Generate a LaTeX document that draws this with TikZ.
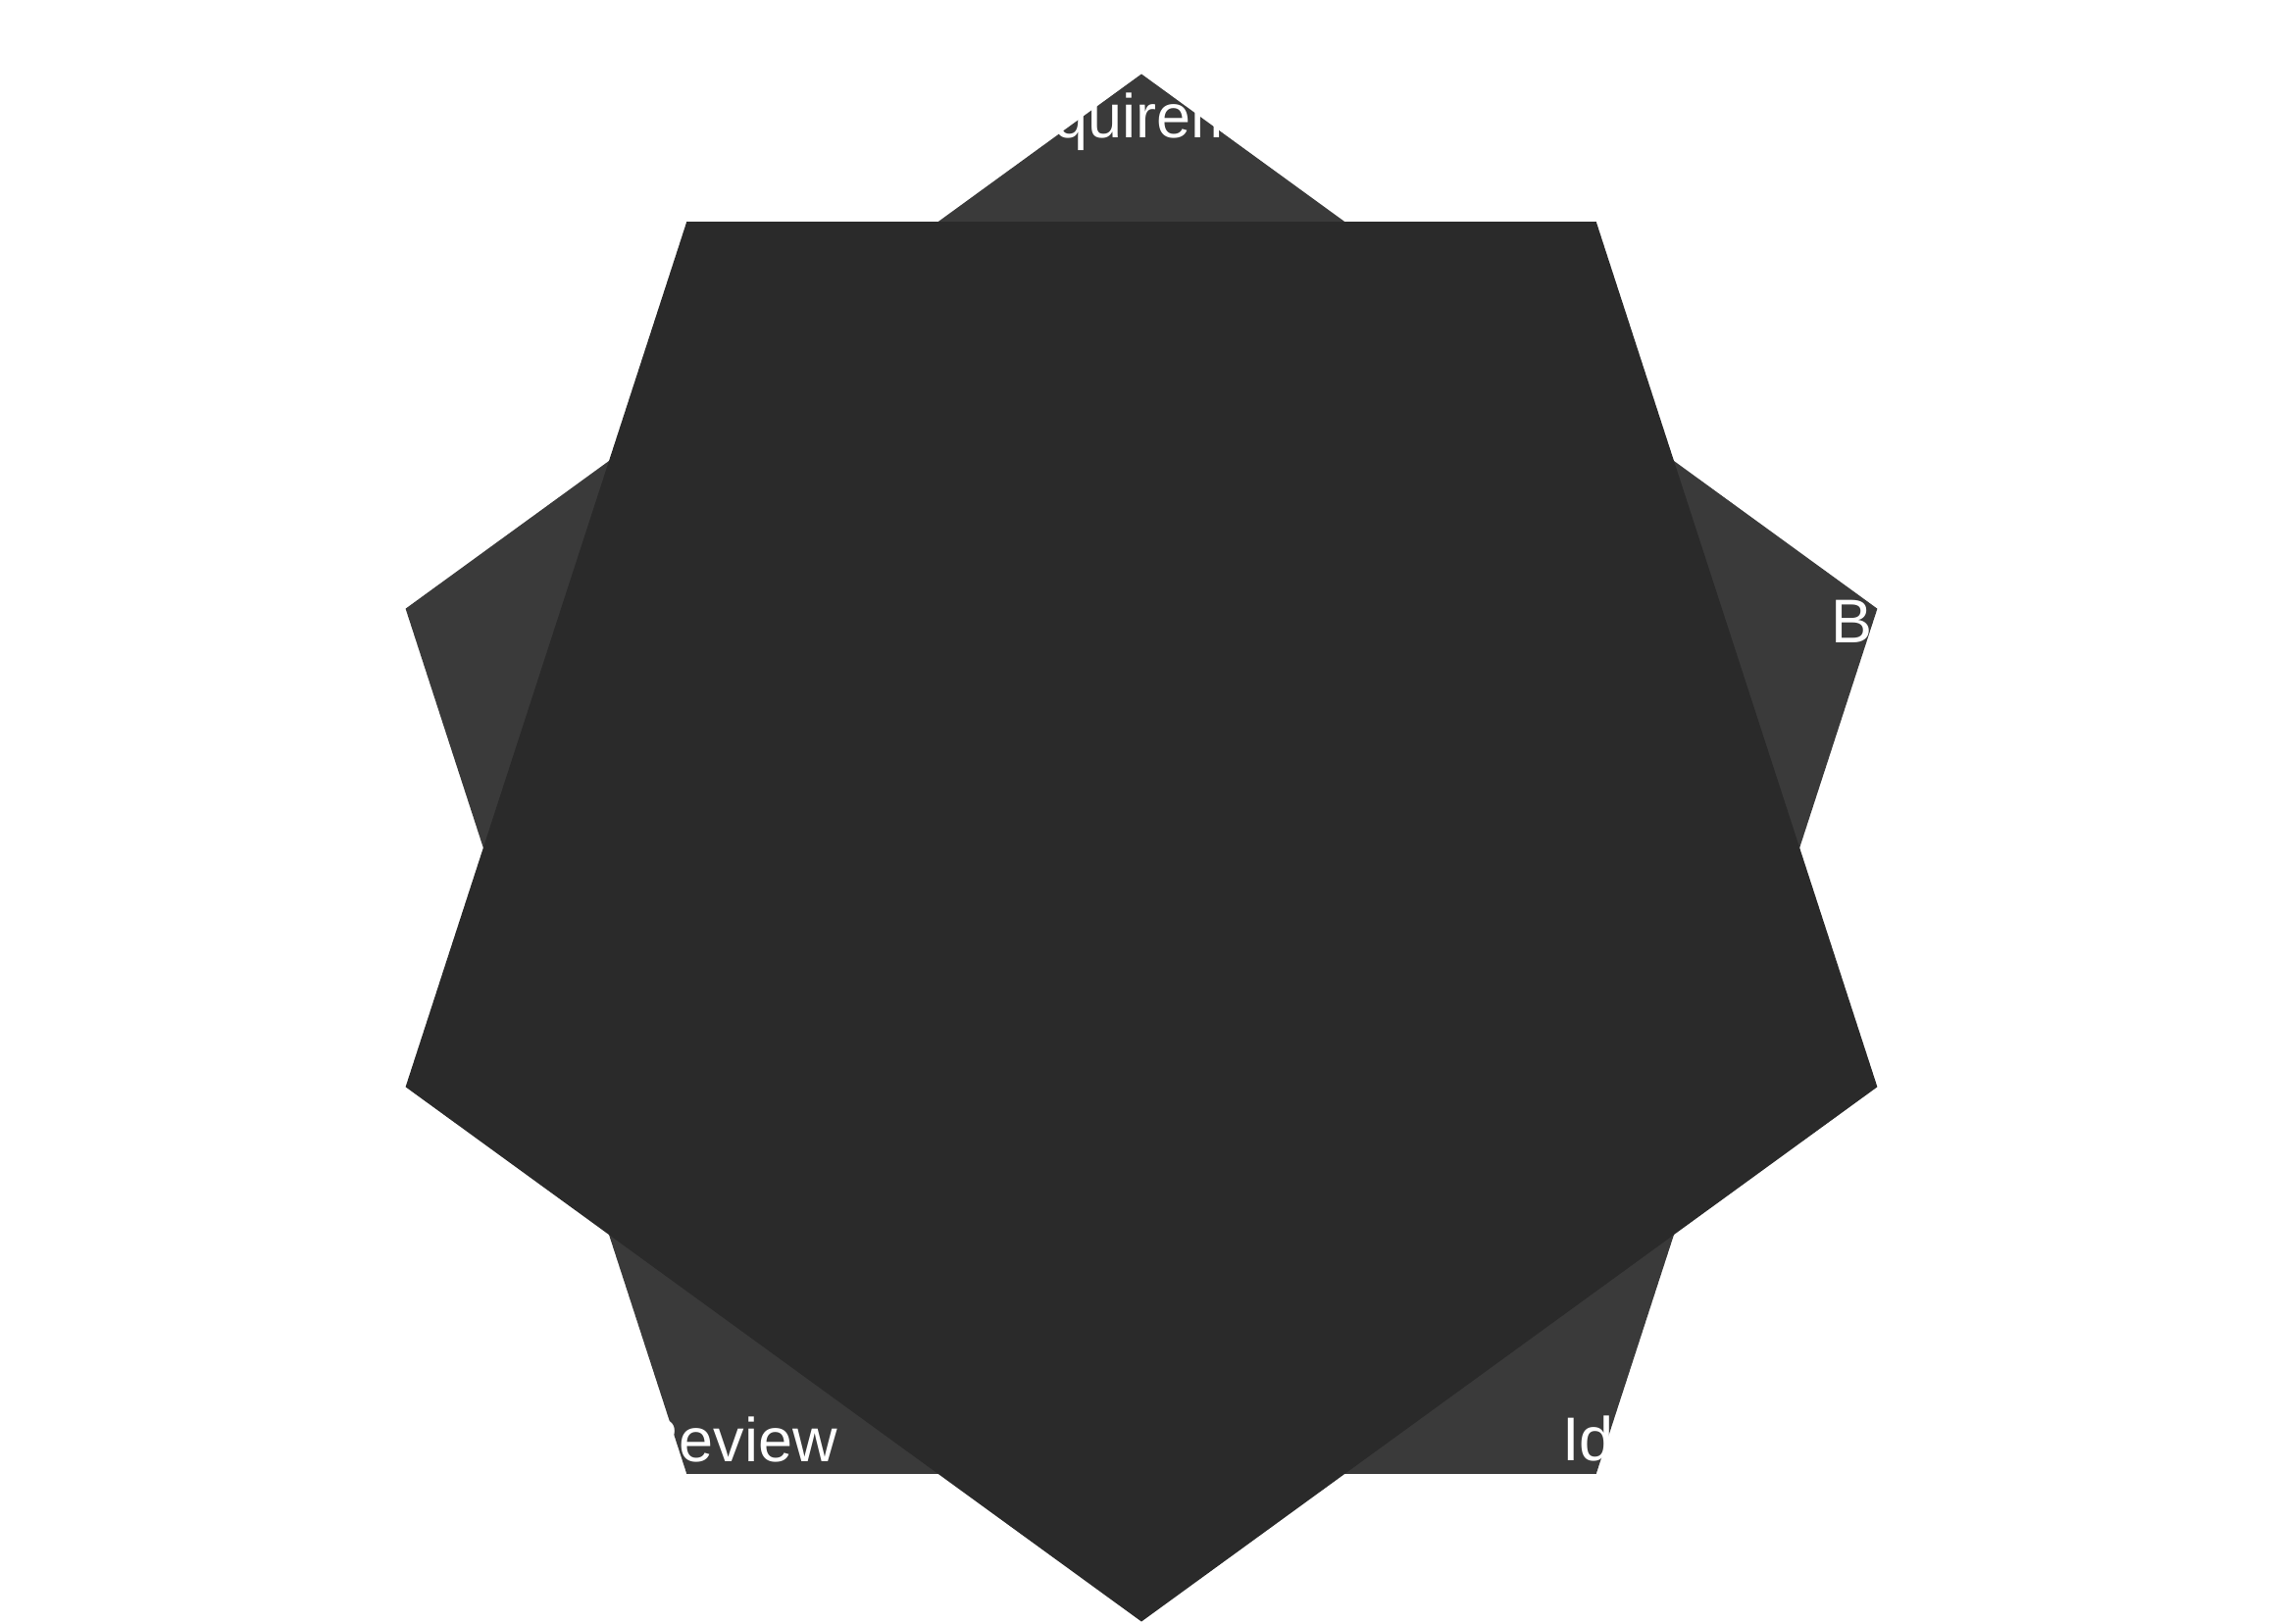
\documentclass[tikz,border=0pt]{standalone}
\usepackage{fontspec}
\setmainfont{Liberation Sans}
\newcommand{\Unit}{1pt}
\newcommand{\Radius}{789}
\newcommand{\Label}{\fontsize{63}{78}\selectfont}
\definecolor{outer}{HTML}{3A3A3A}
\definecolor{inner}{HTML}{2A2A2A}

\begin{document}
\begin{tikzpicture}[x=\Unit,y=-\Unit, line join=round,
  stage/.style={text=white, font=\Label, align=center, anchor=base, inner sep=0pt}]

  \useasboundingbox (0,0) rectangle (2322,1656);
  \fill[white] (0,0) rectangle (2322,1656);
  \coordinate (hub) at (1164,864.5);

  % ---- upright pentagon, behind ------------------------------------------
  \fill[outer,shift={(hub)}] (-90:\Radius)
    \foreach \a in {-18,54,126,198} { -- (\a:\Radius) } -- cycle;

  % ---- inverted pentagon ---------------------------------------------------
  \fill[inner,shift={(hub)}] (90:\Radius)
    \foreach \a in {162,234,306,18} { -- (\a:\Radius) } -- cycle;

  % ---- stage names (anchored on the last line's baseline) -----------------
  \node[stage] (goals)   at (1190,141)  {Client’s Goals \&\\Requirements};
  \node[stage] (bench)   at (2053,733)  {Competitor \&\\Best Practice\\Analysis};
  \node[stage] (ideas)   at (1735,1645) {Ideation \&\\Design\\Wireframes};
  \node[stage] (review)  at (637,1568)  {Internal Review\\and Feedback};
  \node[stage] (pitch)   at (255,643)   {Presentation \&\\Iteration};

\end{tikzpicture}
\end{document}
